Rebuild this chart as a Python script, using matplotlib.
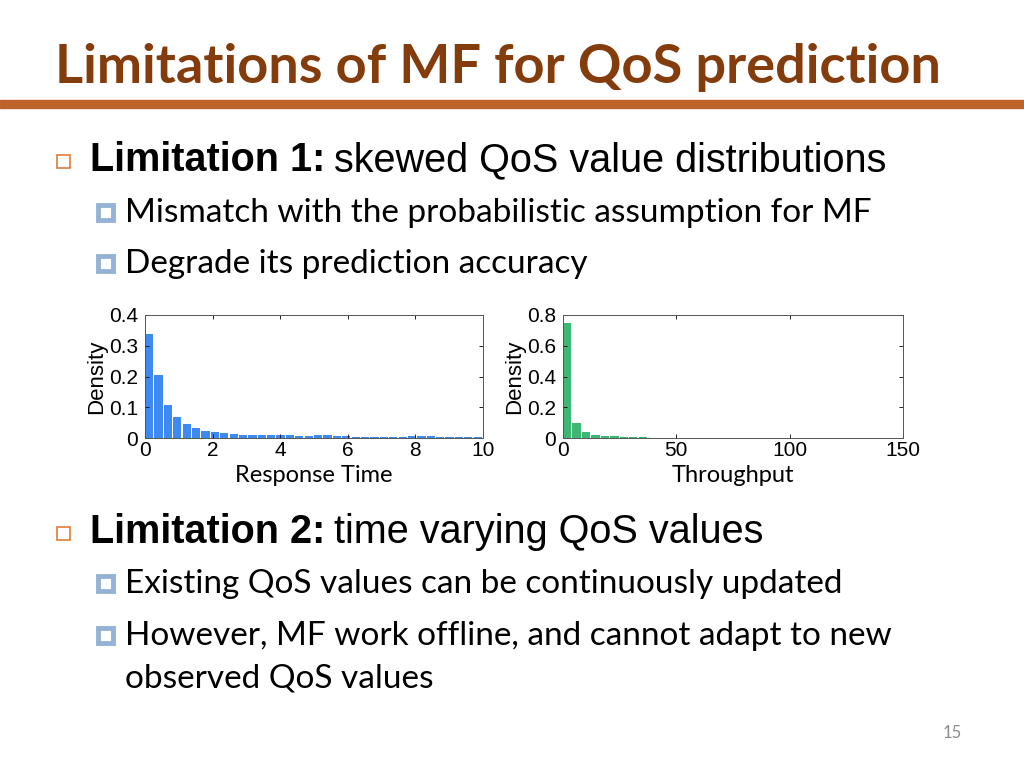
import matplotlib
matplotlib.use("Agg")
import matplotlib.pyplot as plt
import numpy as np
from matplotlib.patches import Rectangle

# histogram data (36 bins each)
rt_density = [0.337, 0.204, 0.108, 0.069, 0.045, 0.033, 0.024, 0.020, 0.015, 0.013,
              0.011, 0.010, 0.009, 0.009, 0.009, 0.009, 0.008, 0.008, 0.009, 0.009,
              0.008, 0.008, 0.004, 0.004, 0.004, 0.004, 0.004, 0.004, 0.005, 0.005,
              0.005, 0.002, 0.002, 0.002, 0.002, 0.002]
tp_density = [0.750, 0.096, 0.037, 0.020, 0.013, 0.011, 0.009, 0.008, 0.007, 0.002,
              0.002, 0.002, 0.002, 0.002, 0.002, 0.002, 0.002, 0.002, 0.002, 0.002,
              0.002, 0.002, 0.002, 0.002, 0.002, 0.002, 0.002, 0.002, 0.002, 0.002,
              0.002, 0.002, 0.002, 0.002, 0.002, 0.002]
rt_range = (0, 10)
tp_range = (0, 150)
rt_yticks = [0, 0.1, 0.2, 0.3, 0.4]
tp_yticks = [0, 0.2, 0.4, 0.6, 0.8]
rt_xticks = [0, 2, 4, 6, 8, 10]
tp_xticks = [0, 50, 100, 150]

W, H = 1024, 768
fig = plt.figure(figsize=(10.24, 7.68), dpi=100)

def px(x, y):
    return x / W, 1 - y / H

brown = '#843C0C'
rule = '#C0632B'
bullet_blue = '#95B3D7'
body_font = ['Lato', 'DejaVu Sans']

# title and rule
fig.text(*px(55, 68), 'Limitations of MF for QoS prediction', fontsize=39,
         fontweight='bold', color=brown, family=body_font, va='center', ha='left')
fig.patches.append(Rectangle(px(0, 108), 1, 8 / H, transform=fig.transFigure,
                             color=rule, zorder=0))

def main_bullet(y, bold, rest):
    x0, y0 = px(57, y + 8)
    fig.patches.append(Rectangle((x0, y0), 13 / W, 13 / H, transform=fig.transFigure,
                                 fill=False, edgecolor='#E07B39', lw=1.2))
    t = fig.text(*px(90, y), bold, fontsize=28.5, fontweight='bold',
                 family='Liberation Sans', va='center', ha='left')
    fig.canvas.draw()
    bb = t.get_window_extent()
    fig.text(bb.x1 / W + 9 / W, 1 - y / H, rest, fontsize=28.5,
             family='Liberation Sans', va='center', ha='left')

def sub_bullet(y, text, mark=True):
    if mark:
        x0, y0 = px(98, y + 7)
        fig.patches.append(Rectangle((x0, y0), 15 / W, 15 / H, transform=fig.transFigure,
                                     facecolor='white', edgecolor=bullet_blue, lw=3.5))
    fig.text(*px(125, y), text, fontsize=24, family=body_font, va='center', ha='left')

main_bullet(160, 'Limitation 1:', 'skewed QoS value distributions')
sub_bullet(213, 'Mismatch with the probabilistic assumption for MF')
sub_bullet(264, 'Degrade its prediction accuracy')

main_bullet(532, 'Limitation 2:', 'time varying QoS values')
sub_bullet(584, 'Existing QoS values can be continuously updated')
sub_bullet(636, 'However, MF work offline, and cannot adapt to new')
sub_bullet(679, 'observed QoS values', mark=False)

fig.text(*px(952, 733), '15', fontsize=12, color='#8C8C8C', family=body_font,
         va='center', ha='center')

def hist_panel(rect, dens, rng, xt, yt, color, xlabel):
    ax = fig.add_axes(rect)
    edges = np.linspace(rng[0], rng[1], len(dens) + 1)
    w = edges[1] - edges[0]
    ax.bar(edges[:-1], dens, width=w * 0.88, align='edge', color=color, linewidth=0)
    ax.set_xlim(rng)
    ax.set_ylim(yt[0], yt[-1])
    ax.set_xticks(xt)
    ax.set_yticks(yt)
    ax.set_yticklabels(['0'] + [f'{v:g}' for v in yt[1:]])
    ax.tick_params(direction='in', top=True, right=True, labelsize=15, length=3,
                   width=0.6)
    ax.tick_params(axis='x', pad=2)
    ax.tick_params(axis='y', pad=5)
    for lab in ax.get_xticklabels() + ax.get_yticklabels():
        lab.set_family('Liberation Sans')
    for s in ax.spines.values():
        s.set_linewidth(0.7)
        s.set_color('#555555')
    ax.set_ylabel('Density', fontsize=16, family='Liberation Sans', labelpad=1)
    ax.set_xlabel(xlabel, fontsize=17, family=body_font, labelpad=4)
    return ax

hist_panel([145 / W, 1 - 438 / H, 338 / W, 123 / H], rt_density, rt_range,
           rt_xticks, rt_yticks, '#3F8AF0', 'Response Time')
hist_panel([563 / W, 1 - 438 / H, 340 / W, 123 / H], tp_density, tp_range,
           tp_xticks, tp_yticks, '#3DB874', 'Throughput')

fig.savefig('out.png', dpi=100)
